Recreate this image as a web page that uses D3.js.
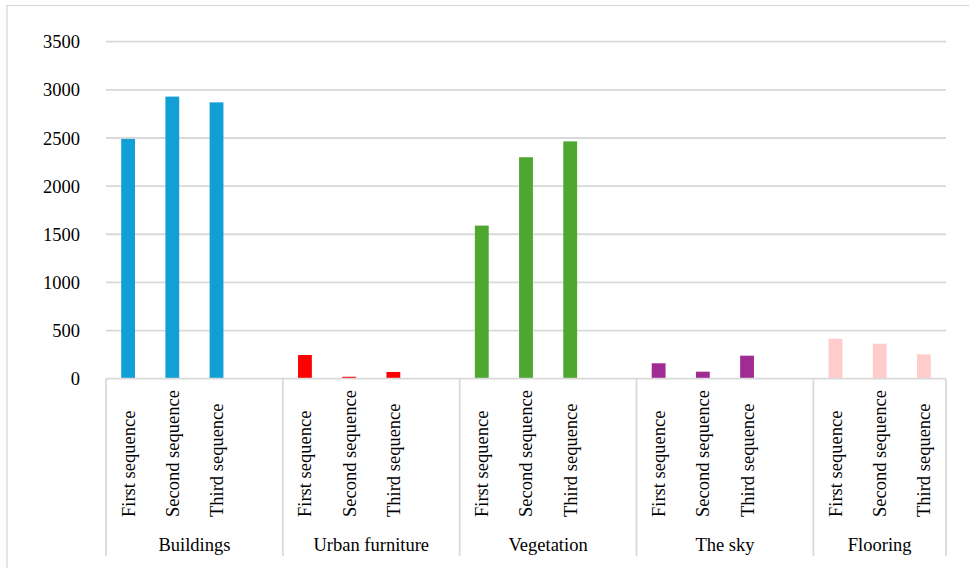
<!DOCTYPE html>
<html>
<head>
<meta charset="utf-8">
<script src="https://cdn.jsdelivr.net/npm/d3@7"></script>
<style>
  html, body { margin: 0; padding: 0; background: #fff; }
  svg { display: block; }
  text { font-family: "Liberation Serif", "Times New Roman", serif; fill: #000; }
</style>
</head>
<body>
<svg id="chart" width="969" height="568"></svg>
<script>
const groups = ["Buildings", "Urban furniture", "Vegetation", "The sky", "Flooring"];
const sequences = ["First sequence", "Second sequence", "Third sequence"];
const groupColors = ["#129fd6", "#ff0000", "#4ea72e", "#a02b93", "#ffcccc"];
const buildingsValues = [2490, 2930, 2870];
const urbanFurnitureValues = [246, 20, 70];
const vegetationValues = [1590, 2300, 2465];
const skyValues = [160, 73, 239];
const flooringValues = [415, 363, 253];
const yTicks = [0, 500, 1000, 1500, 2000, 2500, 3000, 3500];

const values = [buildingsValues, urbanFurnitureValues, vegetationValues, skyValues, flooringValues];

// slots: each group has its three sequences plus an empty spacer slot (except the last)
const slots = [];
groups.forEach((g, gi) => {
  sequences.forEach((s, si) => slots.push({ id: g + "|" + s, group: gi, seq: si, value: values[gi][si] }));
  if (gi < groups.length - 1) slots.push({ id: g + "|gap", group: gi, seq: -1, value: null });
});

const svg = d3.select("#chart");
const plotLeft = 106, plotRight = 946, plotTop = 41.7, plotBottom = 378.7;
const serif = "'Liberation Serif', 'Times New Roman', serif";

// outer border
svg.append("rect").attr("x", 7).attr("y", 5.5).attr("width", 980).attr("height", 600)
  .attr("fill", "none").attr("stroke", "#d9d9d9").attr("stroke-width", 1.3);

const x = d3.scaleBand().domain(slots.map(d => d.id)).range([plotLeft, plotRight]).padding(0);
const y = d3.scaleLinear().domain([0, 3500]).range([plotBottom, plotTop]);

// gridlines
svg.append("g").selectAll("line").data(yTicks.filter(t => t > 0)).join("line")
  .attr("x1", plotLeft).attr("x2", plotRight)
  .attr("y1", d => y(d)).attr("y2", d => y(d))
  .attr("stroke", "#d9d9d9").attr("stroke-width", 1.8);

// y axis labels
const yAxis = d3.axisLeft(y).tickValues(yTicks).tickFormat(d3.format("d")).tickSize(0).tickPadding(0);
const yg = svg.append("g").attr("transform", "translate(80,0)").call(yAxis);
yg.attr("font-family", null).attr("font-size", null);
yg.select(".domain").remove();
yg.selectAll("text").style("font-size", "18.5px").style("font-family", serif)
  .attr("fill", "#000").attr("dy", "0.33em");

// bars
const bw = x.bandwidth() / 3.2;
svg.append("g").selectAll("rect").data(slots.filter(d => d.seq >= 0)).join("rect")
  .attr("x", d => x(d.id) + x.bandwidth() / 2 - bw / 2)
  .attr("width", bw)
  .attr("y", d => y(d.value))
  .attr("height", d => y(0) - y(d.value))
  .attr("fill", d => groupColors[d.group]);

// category axis: baseline and separators
svg.append("line").attr("x1", plotLeft).attr("x2", plotRight).attr("y1", plotBottom).attr("y2", plotBottom)
  .attr("stroke", "#d9d9d9").attr("stroke-width", 1.8);
const bounds = groups.map((g, gi) => {
  const gs = slots.filter(d => d.group === gi);
  return [x(gs[0].id), x(gs[gs.length - 1].id) + x.bandwidth()];
});
const seps = bounds.map(b => b[0]).concat([plotRight]);
svg.append("g").selectAll("line").data(seps).join("line")
  .attr("x1", d => d).attr("x2", d => d).attr("y1", plotBottom).attr("y2", 556)
  .attr("stroke", "#d9d9d9").attr("stroke-width", 1.8);

// sequence labels (rotated)
svg.append("g").selectAll("text").data(slots.filter(d => d.seq >= 0)).join("text")
  .attr("transform", d => `translate(${x(d.id) + x.bandwidth() / 2},517) rotate(-90)`)
  .attr("text-anchor", "start").attr("dy", "0.35em")
  .style("font-size", "18.5px").style("font-family", serif)
  .text(d => sequences[d.seq]);

// group labels
svg.append("g").selectAll("text").data(groups).join("text")
  .attr("x", (d, i) => (bounds[i][0] + bounds[i][1]) / 2)
  .attr("y", 551)
  .attr("text-anchor", "middle")
  .style("font-size", "18.5px").style("font-family", serif)
  .text(d => d);
</script>
</body>
</html>
